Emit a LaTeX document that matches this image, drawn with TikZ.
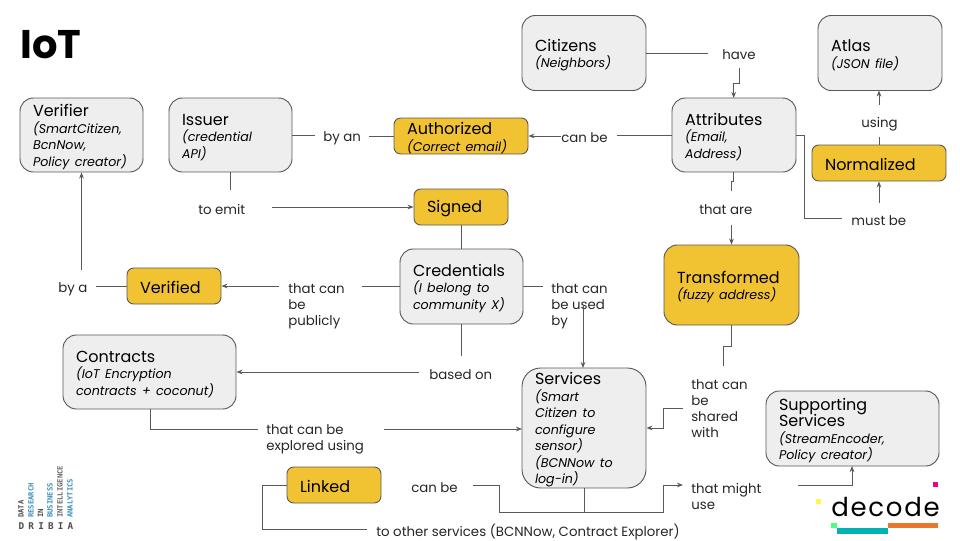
\documentclass[tikz,border=0pt]{standalone}
\usepackage{fontspec}
\setmainfont{Poppins}
\newfontfamily\monofam{DejaVu Sans Mono}
\usetikzlibrary{arrows.meta}
\definecolor{boxgrey}{HTML}{EEEEEE}
\definecolor{boxline}{HTML}{595959}
\definecolor{boxyellow}{HTML}{F1C232}
\definecolor{oribiablue}{HTML}{3D8DBE}
\definecolor{decodeteal}{HTML}{00B2B2}
\definecolor{decodeorange}{HTML}{E8762C}
\newcommand{\subtxt}[1]{\mbox{\itshape\fontsize{9.5}{12}\selectfont #1}}
\tikzset{
  x=0.75pt, y=-0.75pt,
  sized/.style n args={2}{minimum width=#1*0.75pt, minimum height=#2*0.75pt, text width=#1*0.75pt-19.5pt},
  basebox/.style={draw=boxline, line width=0.7pt, align=left, inner xsep=9.75pt, inner ysep=0pt,
    font=\fontsize{12}{12.4}\selectfont, execute at begin node={\rule{0pt}{12pt}}},
  greybox/.style={basebox, fill=boxgrey, rounded corners=10pt},
  yellowbox/.style={basebox, fill=boxyellow, rounded corners=5pt},
  lbl/.style={anchor=west, inner sep=0pt, align=left, text=black!85, font=\fontsize{10}{12}\selectfont},
  link/.style={draw=boxline, line width=0.7pt},
  arr/.style={link, -{Stealth[length=4.5pt,width=3.5pt]}},
  oribia/.style={anchor=west, inner sep=0pt, rotate=90, font=\monofam\bfseries\fontsize{5.4}{6}\selectfont}
}
\begin{document}
\begin{tikzpicture}
\useasboundingbox (0,0) rectangle (960,540);

\node[anchor=west, inner sep=0pt, font=\bfseries\fontsize{30}{30}\selectfont] (title) at (20,45) {IoT};

% boxes
\node[greybox, sized={124}{75}] (citizens) at (584,53) {Citizens\\\subtxt{(Neighbors)}};
\node[greybox, sized={124}{75}] (atlas) at (880,53) {Atlas\\\subtxt{(JSON file)}};
\node[greybox, sized={124}{74}] (attributes) at (734,135) {Attributes\\\subtxt{(Email,}\\\subtxt{Address)}};
\node[greybox, sized={123}{74}] (verifier) at (81.5,135) {Verifier\\\subtxt{(SmartCitizen,}\\\subtxt{BcnNow,}\\\subtxt{Policy creator)}};
\node[greybox, sized={123}{74}] (issuer) at (230.5,135) {Issuer\\\subtxt{(credential}\\\subtxt{API)}};
\node[yellowbox, sized={134}{36}] (authorized) at (461,136) {Authorized\\\subtxt{(Correct email)}};
\node[yellowbox, sized={134}{36}] (normalized) at (879,163) {Normalized};
\node[yellowbox, sized={94}{36}] (signed) at (461,207) {Signed};
\node[yellowbox, sized={135}{80}, rounded corners=10pt] (transformed) at (731.5,285) {Transformed\\\subtxt{(fuzzy address)}};
\node[greybox, sized={123}{75}] (credentials) at (461.5,286.5) {Credentials\\\subtxt{(I belong to}\\\subtxt{community X)}};
\node[yellowbox, sized={94}{36}] (verified) at (174,286) {Verified};
\node[greybox, sized={173}{74}] (contracts) at (149.5,372) {Contracts\\\subtxt{(IoT Encryption}\\\subtxt{contracts + coconut)}};
\node[greybox, sized={124}{120}, rounded corners=14pt] (services) at (584,428) {Services\\\subtxt{(Smart}\\\subtxt{Citizen to}\\\subtxt{configure}\\\subtxt{sensor)}\\\subtxt{(BCNNow to}\\\subtxt{log-in)}};
\node[greybox, sized={173}{75}] (supporting) at (852.5,428.5) {Supporting\\Services\\\subtxt{(StreamEncoder,}\\\subtxt{Policy creator)}};
\node[yellowbox, sized={94}{36}] (linked) at (334,485) {Linked};

% labels
\node[lbl] (have) at (722,55) {have};
\node[lbl] (canbe) at (561,138) {can be};
\node[lbl] (byan) at (323,138) {by an};
\node[lbl] (using) at (861,124) {using};
\node[lbl] (mustbe) at (851,221) {must be};
\node[lbl] (thatare) at (699,210) {that are};
\node[lbl] (toemit) at (198,209) {to emit};
\node[lbl] (publicly) at (288,306) {that can\\be\\publicly};
\node[lbl] (bya) at (58,289) {by a};
\node[lbl] (usedby) at (551,306) {that can\\be used\\by};
\node[lbl] (basedon) at (429,375) {based on};
\node[lbl] (sharedwith) at (691,409) {that can\\be\\shared\\with};
\node[lbl] (explored) at (266,439) {that can be\\explored using};
\node[lbl] (canbetwo) at (411,488) {can be};
\node[lbl] (mightuse) at (691,496) {that might\\use};
\node[lbl] (otherservices) at (376,532) {to other services (BCNNow, Contract Explorer)};

% connectors
\draw[link] (citizens.east) -- (708,53);
\draw[arr] (739,68) -- (739,83) -- (733.7,83) -- (733.7,98);
\draw[link] (attributes.west) -- (617,135);
\draw[arr] (561,136) -- (authorized.east);
\draw[link] (authorized.west) -- (369,136);
\draw[link] (issuer.east) -- (315,135);
\draw[link] (attributes.east) -- (804,135) -- (804,218) -- (842,218);
\draw[arr] (879,203) -- (normalized.south);
\draw[link] (normalized.north) -- (879,137);
\draw[arr] (879,105) -- (879,90.5);
\draw[link] (733,172) -- (733,181) -- (731.5,181) -- (731.5,191);
\draw[arr] (731.5,225) -- (transformed.north);
\draw[link] (230.5,172) -- (230.5,190);
\draw[arr] (272,207) -- (signed.west);
\draw[link] (signed.south) -- (credentials.north -| signed.south);
\draw[link] (credentials.west) -- (362,286.5);
\draw[arr] (279,286) -- (verified.east);
\draw[link] (verified.west) -- (96,286);
\draw[arr] (81.5,270) -- (verifier.south);
\draw[link] (credentials.east) -- (543,286.5);
\draw[arr] (583,305) -- (583,368);
\draw[link] (461.5,324) -- (461.5,356);
\draw[arr] (419,372) -- (contracts.east);
\draw[link] (731.5,325) -- (731.5,346) -- (723,346) -- (723,366);
\draw[arr] (683,408) -- (663,408) -- (663,428) -- (services.east);
\draw[link] (150,409) -- (150,429) -- (258,429);
\draw[arr] (384,429) -- (522,429);
\draw[link] (services.south) -- (584,512);
\draw[arr] (473,485) -- (499,485) -- (499,512) -- (663,512) -- (663,485) -- (683,485);
\draw[link] (linked.west) -- (262,485) -- (262,529) -- (367,529);
\draw[arr] (798,485) -- (852,485) -- (852,466);

% oribia logo
\node[oribia, text=black!70] at (21,518) {DATA};
\node[oribia, text=oribiablue] at (31,518) {RESEARCH};
\node[oribia, text=black!70] at (40.5,518) {IN};
\node[oribia, text=oribiablue] at (50,518) {BUSINESS};
\node[oribia, text=black!60] at (60,518) {INTELLIGENCE};
\node[oribia, text=oribiablue] at (70,518) {ANALYTICS};
\foreach \ltr [count=\i from 0] in {D,R,I,B,I,A}
  \node[inner sep=0pt, text=black!70, font=\monofam\bfseries\fontsize{7}{7}\selectfont] at (21.5+\i*9.8,526) {\ltr};

% decode logo
\node[anchor=base west, inner sep=0pt, font=\fontsize{19.5}{24}\selectfont] (decode) at (831,516) {d\kern1.3pt e\kern1.3pt c\kern1.3pt o\kern1.3pt d\kern1.3pt e};
\fill[fill=magenta] (933,482) rectangle (938,487);
\fill[fill=yellow!70!white] (816,499) rectangle (821,504);
\fill[fill=green!70!cyan!70] (831,523) rectangle (837,528);
\fill[fill=decodeteal] (837,528) rectangle (888,534);
\fill[fill=decodeorange] (888,523) rectangle (938,528);
\end{tikzpicture}
\end{document}
